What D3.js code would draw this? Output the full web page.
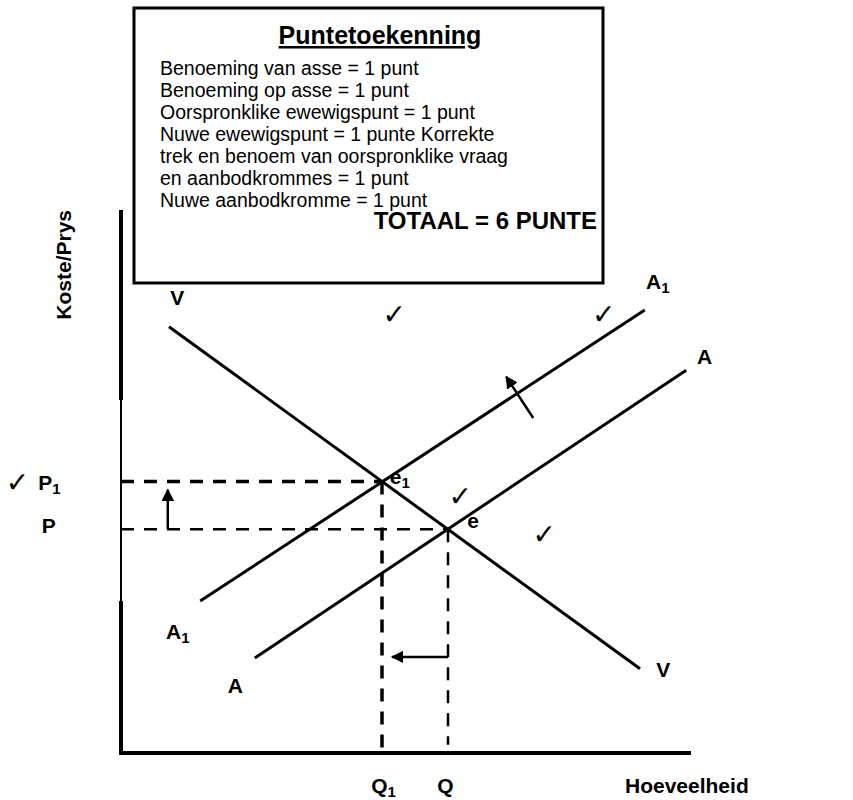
<!DOCTYPE html>
<html>
<head>
<meta charset="utf-8">
<script src="https://cdn.jsdelivr.net/npm/d3@7"></script>
<style>
  body { margin: 0; background: #fff; }
  svg { display: block; font-family: "Liberation Sans", Arial, sans-serif; }
  .curve { stroke: #000; stroke-width: 3; fill: none; }
  .label { font-weight: bold; font-size: 21px; }
  .tick-mark { font-family: "DejaVu Sans", sans-serif; font-size: 28px; }
  .legend-line { font-size: 19.5px; }
</style>
</head>
<body>
<svg id="chart" width="853" height="800"></svg>
<script>
// chart values in model units (quantity 0-100, price 0-100)
const demand = [[8, 78.5], [86.5, 15.5]];
const supply = [[22.3, 17.5], [94.2, 70.5]];
const supplyNew = [[13.2, 28], [87.3, 81.6]];
const equilibria = [
  { name: 'e', q: 54.5, p: 41.2 },
  { name: 'e1', q: 43.5, p: 50 },
];
const shiftArrows = [
  { from: [7.8, 41.2], to: [7.8, 48.5] },
  { from: [54.5, 17.7], to: [45.2, 17.7] },
  { from: [68.7, 61.7], to: [64.2, 69.3] },
];
const legendTitle = 'Puntetoekenning';
const legendLines = [
  'Benoeming van asse = 1 punt',
  'Benoeming op asse = 1 punt',
  'Oorspronklike ewewigspunt = 1 punt',
  'Nuwe ewewigspunt = 1 punte Korrekte',
  'trek en benoem van oorspronklike vraag',
  'en aanbodkrommes = 1 punt',
  'Nuwe aanbodkromme = 1 punt',
];
const legendTotal = 'TOTAAL = 6 PUNTE';

const svg = d3.select('#chart');

const x = d3.scaleLinear().domain([0, 100]).range([121, 721]);
const y = d3.scaleLinear().domain([0, 100]).range([753, 210]);

const line = d3.line()
  .x((d) => x(d[0]))
  .y((d) => y(d[1]));

svg.append('defs')
  .append('marker')
  .attr('id', 'head')
  .attr('viewBox', '0 0 10 10')
  .attr('refX', 9)
  .attr('refY', 5)
  .attr('markerWidth', 5)
  .attr('markerHeight', 5)
  .attr('markerUnits', 'strokeWidth')
  .attr('orient', 'auto')
  .append('path')
  .attr('d', 'M0,0 L10,5 L0,10 z')
  .attr('fill', '#000');

// axes: the vertical one is thinner around the price labels
const axes = svg.append('g').attr('id', 'axes');
axes.append('line')
  .attr('x1', x(0)).attr('y1', y(100))
  .attr('x2', x(0)).attr('y2', y(65))
  .attr('stroke', '#000').attr('stroke-width', 4);
axes.append('line')
  .attr('x1', x(0)).attr('y1', y(65))
  .attr('x2', x(0)).attr('y2', y(28))
  .attr('stroke', '#000').attr('stroke-width', 2);
axes.append('line')
  .attr('x1', x(0)).attr('y1', y(28))
  .attr('x2', x(0)).attr('y2', y(0) + 2)
  .attr('stroke', '#000').attr('stroke-width', 4);
axes.append('line')
  .attr('x1', x(0) - 2).attr('y1', y(0))
  .attr('x2', x(95)).attr('y2', y(0))
  .attr('stroke', '#000').attr('stroke-width', 4);

// dashed guides from each equilibrium to the axes
const guides = svg.append('g').attr('id', 'guides');
equilibria.forEach((d) => {
  const w = d.name === 'e1' ? 3.5 : 2.5;
  guides.append('line')
    .attr('x1', x(0)).attr('y1', y(d.p))
    .attr('x2', x(d.q)).attr('y2', y(d.p))
    .attr('stroke', '#000').attr('stroke-width', w)
    .attr('stroke-dasharray', '13 10');
  guides.append('line')
    .attr('x1', x(d.q)).attr('y1', y(d.p))
    .attr('x2', x(d.q)).attr('y2', d.name === 'e1' ? y(0) : y(1.5))
    .attr('stroke', '#000').attr('stroke-width', w)
    .attr('stroke-dasharray', '13 10');
});

svg.append('g')
  .attr('id', 'curves')
  .selectAll('path')
  .data([demand, supply, supplyNew])
  .enter()
    .append('path')
    .classed('curve', true)
    .attr('d', line);

svg.append('g')
  .attr('id', 'arrows')
  .selectAll('line')
  .data(shiftArrows)
  .enter()
    .append('line')
    .attr('x1', (d) => x(d.from[0]))
    .attr('y1', (d) => y(d.from[1]))
    .attr('x2', (d) => x(d.to[0]))
    .attr('y2', (d) => y(d.to[1]))
    .attr('stroke', '#000')
    .attr('stroke-width', 2.5)
    .attr('marker-end', 'url(#head)');

// labels, with optional subscript
const labels = [
  { t: 'V', s: '', q: 8.2, p: 82.5 },
  { t: 'A', s: '1', q: 87.5, p: 85.5 },
  { t: 'A', s: '', q: 96, p: 71.7 },
  { t: 'A', s: '1', q: 7.5, p: 21 },
  { t: 'A', s: '', q: 17.8, p: 11 },
  { t: 'V', s: '', q: 89.2, p: 14 },
  { t: 'e', s: '1', q: 44.8, p: 49.5 },
  { t: 'e', s: '', q: 57.7, p: 41.5 },
  { t: 'P', s: '1', q: -13.8, p: 48.5 },
  { t: 'P', s: '', q: -13.2, p: 40.6 },
  { t: 'Q', s: '1', q: 41.7, p: -7.4 },
  { t: 'Q', s: '', q: 52.7, p: -7.4 },
  { t: 'Hoeveelheid', s: '', q: 84, p: -7.4 },
];
const labelText = svg.append('g')
  .attr('id', 'labels')
  .selectAll('text')
  .data(labels)
  .enter()
    .append('text')
    .classed('label', true)
    .attr('x', (d) => x(d.q))
    .attr('y', (d) => y(d.p));
labelText.append('tspan').text((d) => d.t);
labelText.filter((d) => d.s)
  .append('tspan')
  .attr('dy', 4)
  .attr('font-size', 15)
  .text((d) => d.s);

svg.append('text')
  .classed('label', true)
  .attr('transform', `translate(${x(-8.4)},${y(89.9)}) rotate(-90)`)
  .attr('text-anchor', 'middle')
  .text('Koste/Prys');

const checks = [[-19.2, 48], [43.6, 79], [78.5, 79], [54.6, 45.5], [68.6, 38.5]];
svg.append('g')
  .attr('id', 'checks')
  .selectAll('text')
  .data(checks)
  .enter()
    .append('text')
    .classed('tick-mark', true)
    .attr('x', (d) => x(d[0]))
    .attr('y', (d) => y(d[1]))
    .text('\u2713');

// marking box
const box = svg.append('g').attr('id', 'box');
box.append('rect')
  .attr('x', 134).attr('y', 8)
  .attr('width', 469).attr('height', 275)
  .attr('fill', '#fff')
  .attr('stroke', '#000')
  .attr('stroke-width', 3);
box.append('text')
  .attr('x', 380).attr('y', 44)
  .attr('text-anchor', 'middle')
  .attr('font-weight', 'bold')
  .attr('font-size', 25)
  .attr('text-decoration', 'underline')
  .text(legendTitle);
box.selectAll('text.legend-line')
  .data(legendLines)
  .enter()
    .append('text')
    .classed('legend-line', true)
    .attr('x', 160)
    .attr('y', (d, i) => 75 + i * 22)
    .text((d) => d);
box.append('text')
  .attr('x', 597).attr('y', 75 + 7 * 22)
  .attr('text-anchor', 'end')
  .attr('font-weight', 'bold')
  .attr('font-size', 24)
  .text(legendTotal);
</script>
</body>
</html>
